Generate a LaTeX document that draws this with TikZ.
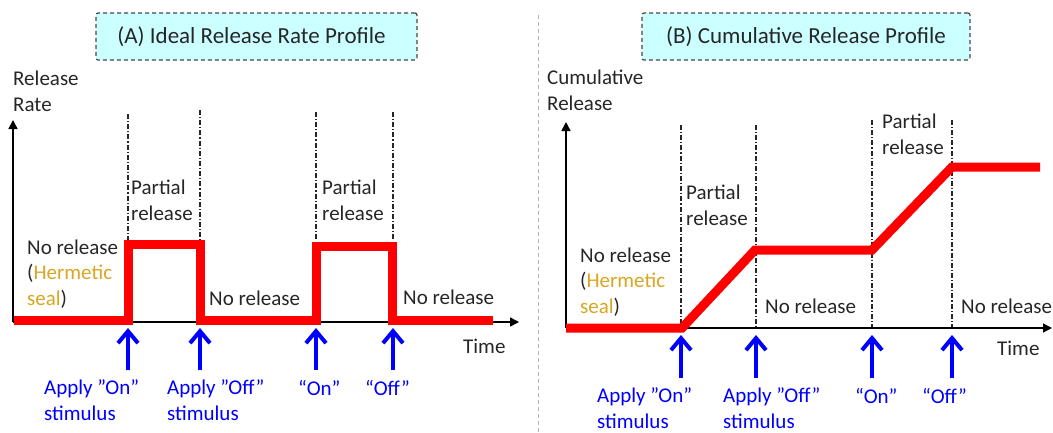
\documentclass[tikz,border=0pt]{standalone}
\usepackage{fontspec}
\setmainfont{Carlito}
\usetikzlibrary{arrows.meta}
\definecolor{txtgray}{HTML}{262626}
\definecolor{sealgold}{HTML}{DAA520}
\definecolor{titlecyan}{HTML}{CCFFFF}
\definecolor{stimblue}{HTML}{0000FF}
\definecolor{curvered}{HTML}{FF0000}

\begin{document}
\begin{tikzpicture}[
  x=1pt, y=-1pt,
  font=\fontsize{21}{25.5}\selectfont,
  every node/.style={text=txtgray, inner sep=0pt},
  lbl/.style={anchor=base west, align=left},
  stimlbl/.style={lbl, text=stimblue},
  titlebox/.style={draw=black!72, line width=1.2pt, dash pattern=on 4pt off 3pt, fill=titlecyan,
    rounded corners=2pt, minimum height=47pt, font=\fontsize{23}{27}\selectfont},
  axis/.style={-{Triangle[length=9pt, width=9pt]}, line width=1.5pt, black},
  curve/.style={line width=9pt, curvered, line join=miter},
  event/.style={line width=1.1pt, black!85, dash pattern=on 5pt off 2pt on 1.2pt off 2pt},
  stim/.style={-{Straight Barb[length=12pt, width=20pt]}, line width=4pt, stimblue},
  divider/.style={line width=1pt, black!30, dash pattern=on 4pt off 3pt}
]
\useasboundingbox (0,0) rectangle (1053,432);

% (A) release rate
\node[titlebox, minimum width=321pt] (ttlA) at (256.5,36.5) {(A) Ideal Release Rate Profile\hspace*{10pt}};
\coordinate (oA) at (13,322);
\coordinate (onA) at (128,322);
\coordinate (offA) at (200,322);
\coordinate (on2A) at (316,322);
\coordinate (off2A) at (393,322);

\draw[event] (onA |- 0,114) -- (onA |- 0,240);
\draw[event] (offA |- 0,110) -- (offA |- 0,240);
\draw[event] (on2A |- 0,112) -- (on2A |- 0,240);
\draw[event] (off2A |- 0,112) -- (off2A |- 0,240);

\draw[axis] (oA) -- (oA |- 0,120);
\draw[axis] (oA) -- (519,322);
\draw[curve] (14,320) -- (128,320) -- (128,244) -- (200,244) -- (200,320) -- (316,320)
  -- (316,246) -- (392,246) -- (392,320) -- (493,320);

\node[lbl] (ylA) at (13,111) {Release\\Rate};
\node[lbl] (partA) at (131,220) {Partial\\release};
\node[lbl] (part2A) at (322,220) {Partial\\release};
\node[lbl] (sealA) at (27,305) {No release\\(\textcolor{sealgold}{Hermetic}\\\textcolor{sealgold}{seal})};
\node[lbl] (noA) at (209,305) {No release};
\node[lbl] (no2A) at (403,304) {No release};
\node[lbl] (timeA) at (463,353) {Time};

\draw[stim] (onA |- 0,370) -- (onA |- 0,328);
\draw[stim] (offA |- 0,370) -- (offA |- 0,328);
\draw[stim] (on2A |- 0,370) -- (on2A |- 0,328);
\draw[stim] (off2A |- 0,370) -- (off2A |- 0,328);
\node[stimlbl] (stA) at (44,420) {Apply ”On”\\stimulus};
\node[stimlbl] (stoffA) at (167,420) {Apply ”Off”\\stimulus};
\node[stimlbl] (st2A) at (298,395) {“On”};
\node[stimlbl] (stoff2A) at (365,395) {“Off”};

% divider
\draw[divider] (538,15) -- (538,432);

% (B) cumulative release
\node[titlebox, minimum width=328pt] (ttlB) at (806,36.5) {(B) Cumulative Release Profile};
\coordinate (oB) at (566,328);
\coordinate (onB) at (681,328);
\coordinate (offB) at (756,328);
\coordinate (on2B) at (872,328);
\coordinate (off2B) at (952,328);

\draw[event] (onB |- 0,125) -- (onB);
\draw[event] (offB |- 0,125) -- (offB);
\draw[event] (on2B |- 0,120) -- (on2B);
\draw[event] (off2B |- 0,120) -- (off2B);

\draw[axis] (oB) -- (oB |- 0,122);
\draw[axis] (oB) -- (1052,328);
\draw[curve] (566,328) -- (682,328) -- (755,250) -- (872,250) -- (952,167) -- (1040,167);

\node[lbl] (ylB) at (547,110) {Cumulative\\Release};
\node[lbl] (partB) at (686,225) {Partial\\release};
\node[lbl] (part2B) at (882,154) {Partial\\release};
\node[lbl] (sealB) at (580,313) {No release\\(\textcolor{sealgold}{Hermetic}\\\textcolor{sealgold}{seal})};
\node[lbl] (noB) at (765,313) {No release};
\node[lbl] (no2B) at (961,313) {No release};
\node[lbl] (timeB) at (997,355) {Time};

\draw[stim] (onB |- 0,378) -- (onB |- 0,335);
\draw[stim] (offB |- 0,378) -- (offB |- 0,335);
\draw[stim] (on2B |- 0,378) -- (on2B |- 0,335);
\draw[stim] (off2B |- 0,378) -- (off2B |- 0,335);
\node[stimlbl] (stB) at (597,428) {Apply ”On”\\stimulus};
\node[stimlbl] (stoffB) at (723,428) {Apply ”Off”\\stimulus};
\node[stimlbl] (st2B) at (855,403) {“On”};
\node[stimlbl] (stoff2B) at (922,403) {“Off”};
\end{tikzpicture}
\end{document}
